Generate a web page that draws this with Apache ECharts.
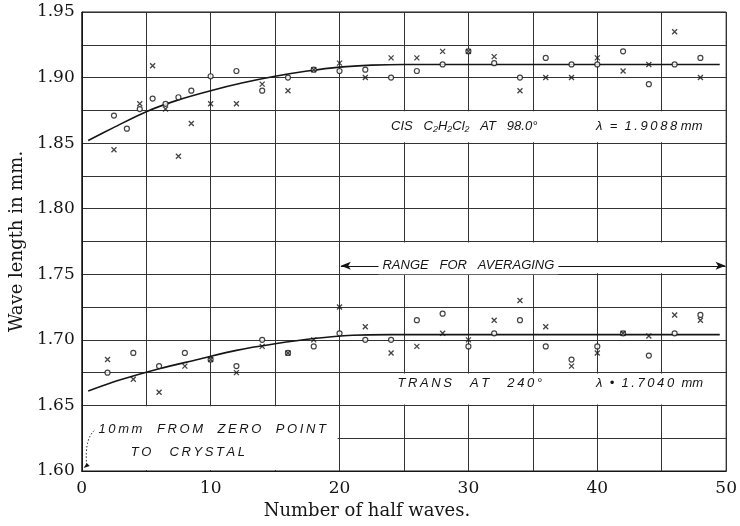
<!DOCTYPE html>
<html>
<head>
<meta charset="utf-8">
<script src="https://cdn.jsdelivr.net/npm/echarts@6/dist/echarts.min.js"></script>
<style>
  html, body { margin: 0; padding: 0; background: #fff; }
  #main { width: 740px; height: 526px; }
</style>
</head>
<body>
<div id="main"></div>
<script>
// cis C2H2Cl2 at 98.0 deg
const cisCircleX = [2.5, 3.5, 4.5, 5.5, 6.5, 7.5, 8.5, 10, 12, 14, 16, 18, 20, 22, 24, 26, 28, 30, 32, 34, 36, 38, 40, 42, 44, 46, 48]
const cisCircleY = [1.871, 1.861, 1.876, 1.884, 1.880, 1.885, 1.890, 1.901, 1.905, 1.890, 1.900, 1.906, 1.905, 1.906, 1.900, 1.905, 1.910, 1.920, 1.911, 1.900, 1.915, 1.910, 1.910, 1.920, 1.895, 1.910, 1.915]
const cisCrossX = [2.5, 4.5, 5.5, 6.5, 7.5, 8.5, 10, 12, 14, 16, 18, 20, 22, 24, 26, 28, 30, 32, 34, 36, 38, 40, 42, 44, 46, 48]
const cisCrossY = [1.845, 1.880, 1.909, 1.876, 1.840, 1.865, 1.880, 1.880, 1.895, 1.890, 1.906, 1.911, 1.900, 1.915, 1.915, 1.920, 1.920, 1.916, 1.890, 1.900, 1.900, 1.915, 1.905, 1.910, 1.935, 1.900]
const cisCurveX = [0.5, 2.5, 5, 7.5, 10, 12.5, 15, 17.5, 20, 22.5, 25, 49.5]
const cisCurveY = [1.852, 1.862, 1.874, 1.883, 1.890, 1.896, 1.901, 1.905, 1.908, 1.9095, 1.910, 1.910]

// trans at 240 deg
const transX = [2, 4, 6, 8, 10, 12, 14, 16, 18, 20, 22, 24, 26, 28, 30, 32, 34, 36, 38, 40, 42, 44, 46, 48]
const transCircleY = [1.675, 1.690, 1.680, 1.690, 1.685, 1.680, 1.700, 1.690, 1.695, 1.705, 1.700, 1.700, 1.715, 1.720, 1.695, 1.705, 1.715, 1.695, 1.685, 1.695, 1.705, 1.688, 1.705, 1.719]
const transCrossY = [1.685, 1.670, 1.660, 1.680, 1.685, 1.675, 1.695, 1.690, 1.700, 1.725, 1.710, 1.690, 1.695, 1.705, 1.700, 1.715, 1.730, 1.710, 1.680, 1.690, 1.705, 1.703, 1.719, 1.715]
const transCurveX = [0.5, 3, 6, 9, 12, 15, 18, 21, 24, 49.5]
const transCurveY = [1.661, 1.6695, 1.678, 1.685, 1.692, 1.697, 1.701, 1.7035, 1.704, 1.704]

const xTicks = [0, 10, 20, 30, 40, 50]
const yTicks = [1.60, 1.65, 1.70, 1.75, 1.80, 1.85, 1.90, 1.95]

const zip = (xs, ys) => xs.map((x, i) => [x, ys[i]])
const crossPath = 'path://M0,0L10,10M10,0L0,10'
const ink = '#151515'
const serif = '"DejaVu Serif", "Liberation Serif", serif'

const circleSeries = (data) => ({
  type: 'scatter',
  data: data,
  symbol: 'circle',
  symbolSize: 5,
  itemStyle: { color: '#fff', borderColor: ink, borderWidth: 1.2 },
  z: 5,
  silent: true
})
const crossSeries = (data) => ({
  type: 'scatter',
  data: data,
  symbol: crossPath,
  symbolSize: 5,
  itemStyle: { color: 'rgba(0,0,0,0)', borderColor: ink, borderWidth: 1.3 },
  z: 5,
  silent: true
})
const curveSeries = (data) => ({
  type: 'line',
  data: data,
  smooth: 0.3,
  showSymbol: false,
  lineStyle: { color: ink, width: 1.6 },
  z: 4,
  silent: true
})

// white bands where the grid is interrupted by lettering
const band = (x0, x1, y0, y1) => [{ coord: [x0, y0] }, { coord: [x1, y1] }]

const chart = echarts.init(document.getElementById('main'))

const option = {
  animation: false,
  backgroundColor: '#fff',
  grid: {
    left: 80, right: 8, top: 12, bottom: 55,
    show: true, borderColor: ink, borderWidth: 1
  },
  xAxis: {
    type: 'value',
    min: 0, max: 50, interval: 5,
    name: 'Number of half waves.',
    nameLocation: 'middle',
    nameGap: 28,
    nameTextStyle: { fontFamily: serif, fontSize: 18, color: ink, padding: [0, 74, 0, 0] },
    axisLine: { show: true, lineStyle: { color: ink } },
    axisTick: { show: false },
    axisLabel: {
      fontFamily: serif, fontSize: 17, color: ink, margin: 9,
      formatter: (v) => (xTicks.includes(v) ? String(v) : '')
    },
    splitLine: { show: true, lineStyle: { color: '#333', width: 1 } }
  },
  yAxis: {
    type: 'value',
    min: 1.60, max: 1.95, interval: 0.025,
    name: 'Wave length in mm.',
    nameLocation: 'middle',
    nameGap: 55,
    nameTextStyle: { fontFamily: serif, fontSize: 18, color: ink },
    axisLine: { show: true, lineStyle: { color: ink } },
    axisTick: { show: false },
    axisLabel: {
      fontFamily: serif, fontSize: 17, color: ink, margin: 7,
      formatter: (v) => {
        const hit = yTicks.find((t) => Math.abs(t - v) < 1e-6)
        return hit === undefined ? '' : hit.toFixed(2)
      }
    },
    splitLine: { show: true, lineStyle: { color: '#333', width: 1 } }
  },
  series: [
    {
      type: 'line',
      data: [],
      z: 1,
      silent: true,
      markArea: {
        silent: true,
        itemStyle: { color: '#fff', opacity: 1 },
        data: [
          band(20.15, 49.9, 1.8507, 1.8743),
          band(20.15, 49.9, 1.7507, 1.7743),
          band(20.15, 49.9, 1.6507, 1.6743),
          band(0.1, 19.85, 1.6007, 1.6493)
        ]
      },
      markLine: {
        silent: true,
        symbol: ['arrow', 'arrow'],
        symbolSize: [6, 10],
        lineStyle: { type: 'solid', color: ink, width: 1 },
        label: { show: false },
        data: [[{ coord: [20.1, 1.7565] }, { coord: [49.95, 1.7565] }]]
      }
    },
    curveSeries(zip(cisCurveX, cisCurveY)),
    curveSeries(zip(transCurveX, transCurveY)),
    circleSeries(zip(cisCircleX, cisCircleY)),
    crossSeries(zip(cisCrossX, cisCrossY)),
    circleSeries(zip(transX, transCircleY)),
    crossSeries(zip(transX, transCrossY))
  ]
}

chart.setOption(option)

// lettering placed in data coordinates
const p = (x, y) => chart.convertToPixel({ gridIndex: 0 }, [x, y])
const letter = '"Liberation Sans", "DejaVu Sans", sans-serif'
// drafting lettering is spaced out: thin space between letters
const ls = (s) => s.split('').join('\u2009')
const label = (x, y, text, extra) => {
  const pt = p(x, y)
  return {
    type: 'text',
    x: pt[0], y: pt[1], z: 10,
    style: Object.assign({
      text: text,
      font: 'italic 13px ' + letter,
      fill: ink,
      verticalAlign: 'middle',
      align: 'left'
    }, extra || {})
  }
}

const leadA = p(0.15, 1.6022)
const leadB = p(1.2, 1.6315)
const leadC = p(0.2, 1.625)

chart.setOption({
  graphic: [
    label(24, 1.8625, 'CIS   C₂H₂Cl₂   AT   98.0°'),
    label(39.9, 1.8625, 'λ  =  ' + ls('1.9088') + ' mm'),
    label(30, 1.7565, 'RANGE   FOR   AVERAGING', {
      align: 'center', backgroundColor: '#fff', padding: [2, 4]
    }),
    label(24.5, 1.6668, ls('TRANS') + '     ' + ls('AT') + '     ' + ls('240°')),
    label(39.9, 1.6668, 'λ  •  ' + ls('1.7040') + '  mm'),
    label(1.3, 1.6315, ls('10mm') + '    ' + ls('FROM') + '    ' + ls('ZERO') + '    ' + ls('POINT')),
    label(3.8, 1.6145, ls('TO') + '     ' + ls('CRYSTAL')),
    {
      type: 'bezierCurve',
      z: 10,
      shape: {
        x1: leadA[0] + 3, y1: leadA[1] - 3,
        x2: leadB[0] - 2, y2: leadB[1],
        cpx1: leadC[0], cpy1: leadC[1]
      },
      style: { stroke: ink, lineWidth: 1, lineDash: [1.5, 2], fill: null }
    },
    {
      type: 'polygon',
      z: 10,
      shape: {
        points: [
          [leadA[0], leadA[1]],
          [leadA[0] + 6, leadA[1] - 2],
          [leadA[0] + 3, leadA[1] - 5]
        ]
      },
      style: { fill: ink }
    }
  ]
})

window.addEventListener('resize', () => chart.resize())
</script>
</body>
</html>
